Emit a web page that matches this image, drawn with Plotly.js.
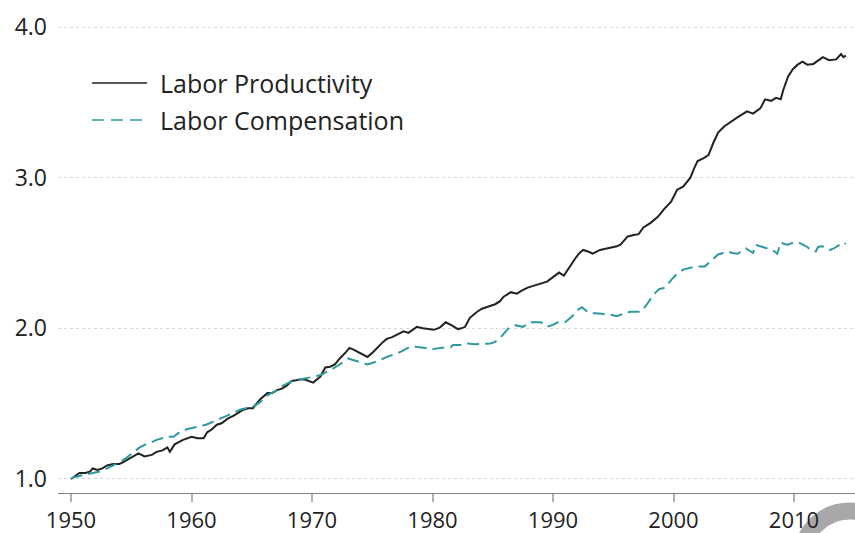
<!DOCTYPE html>
<html>
<head>
<meta charset="utf-8">
<script src="https://cdn.plot.ly/plotly-3.0.1.min.js"></script>
<style>html,body{margin:0;padding:0;background:#fff;}#chart{width:855px;height:533px;}</style>
</head>
<body>
<div id="chart"></div>
<script>
// Labor Productivity (index, 1950 = 1.0)
const prodYears = [1950.0,1950.2,1950.7,1951.2,1951.6,1951.8,1952.2,1952.6,1953.0,1953.5,1954.0,1954.3,1954.9,1955.6,1956.1,1956.7,1957.1,1957.6,1958.0,1958.2,1958.6,1959.3,1960.0,1960.5,1961.0,1961.3,1961.7,1962.1,1962.5,1963.0,1963.5,1963.9,1964.3,1964.7,1965.1,1965.4,1965.7,1966.3,1966.7,1967.1,1967.5,1967.9,1968.3,1968.7,1969.0,1969.4,1969.8,1970.1,1970.4,1970.7,1971.1,1971.5,1971.9,1972.3,1972.8,1973.1,1973.4,1973.8,1974.2,1974.6,1975.1,1975.5,1975.9,1976.2,1976.6,1977.1,1977.6,1978.0,1978.4,1978.7,1979.2,1979.6,1980.1,1980.6,1981.1,1981.6,1982.1,1982.4,1982.7,1983.1,1983.7,1984.1,1984.5,1985.2,1985.6,1985.9,1986.5,1987.0,1987.4,1987.9,1988.3,1988.7,1989.1,1989.5,1990.0,1990.5,1990.9,1991.3,1991.6,1991.9,1992.2,1992.5,1992.9,1993.3,1993.9,1994.5,1994.9,1995.3,1995.6,1995.9,1996.2,1996.7,1997.1,1997.5,1998.1,1998.7,1999.2,1999.8,2000.0,2000.3,2000.8,2001.4,2001.7,2002.0,2002.5,2002.9,2003.3,2003.7,2004.2,2004.7,2005.3,2005.7,2006.1,2006.6,2007.2,2007.6,2008.1,2008.5,2008.9,2009.1,2009.5,2009.9,2010.3,2010.7,2011.1,2011.6,2012.0,2012.4,2012.9,2013.5,2013.9,2014.1,2014.3];
const prodValues = [1.00,1.01,1.04,1.04,1.05,1.07,1.06,1.07,1.09,1.10,1.10,1.11,1.14,1.17,1.15,1.16,1.18,1.19,1.21,1.18,1.23,1.26,1.28,1.27,1.27,1.31,1.33,1.36,1.37,1.40,1.42,1.44,1.46,1.47,1.47,1.50,1.53,1.57,1.57,1.59,1.60,1.62,1.65,1.655,1.66,1.66,1.65,1.64,1.66,1.68,1.74,1.745,1.76,1.80,1.84,1.87,1.86,1.845,1.83,1.81,1.845,1.88,1.91,1.93,1.94,1.96,1.98,1.97,1.99,2.01,2.00,1.995,1.99,2.005,2.04,2.02,1.995,2.00,2.01,2.07,2.11,2.13,2.14,2.16,2.18,2.21,2.24,2.23,2.25,2.27,2.28,2.29,2.30,2.31,2.34,2.37,2.35,2.40,2.44,2.47,2.50,2.52,2.51,2.495,2.52,2.53,2.54,2.545,2.555,2.58,2.61,2.62,2.625,2.67,2.70,2.74,2.79,2.84,2.87,2.92,2.94,3.00,3.06,3.11,3.13,3.15,3.23,3.30,3.34,3.37,3.40,3.42,3.44,3.425,3.46,3.52,3.51,3.53,3.52,3.58,3.67,3.72,3.75,3.77,3.75,3.755,3.78,3.80,3.78,3.785,3.82,3.80,3.81];

// Labor Compensation (index, 1950 = 1.0)
const compYears = [1950.0,1950.2,1950.7,1951.3,1951.8,1952.4,1953.0,1953.5,1954.0,1954.6,1955.2,1955.7,1956.2,1956.6,1957.1,1957.6,1958.0,1958.5,1959.0,1959.6,1960.2,1960.7,1961.2,1961.8,1962.4,1963.0,1963.5,1964.0,1964.5,1965.1,1965.7,1966.0,1966.5,1967.1,1967.6,1968.2,1968.6,1969.0,1969.4,1969.8,1970.2,1970.7,1971.1,1971.5,1971.9,1972.3,1972.7,1973.0,1973.4,1973.8,1974.2,1974.6,1975.0,1975.4,1975.8,1976.2,1976.6,1977.1,1977.5,1977.9,1978.2,1978.6,1979.0,1979.4,1979.8,1980.2,1980.6,1981.0,1981.5,1981.7,1982.3,1982.9,1983.5,1984.0,1984.4,1984.8,1985.2,1985.6,1986.0,1986.3,1986.9,1987.5,1988.1,1988.5,1989.0,1989.5,1989.9,1990.4,1991.0,1991.3,1991.6,1992.0,1992.4,1992.7,1993.1,1993.5,1993.9,1994.4,1994.8,1995.3,1995.6,1996.0,1996.4,1996.7,1997.3,1997.8,1998.3,1998.8,1999.3,1999.9,2000.4,2000.8,2001.3,2001.8,2002.2,2002.6,2003.2,2003.7,2004.1,2004.5,2004.9,2005.3,2005.6,2006.0,2006.4,2006.6,2006.8,2007.1,2007.4,2007.8,2008.1,2008.4,2008.6,2008.9,2009.2,2009.5,2009.8,2010.1,2010.5,2010.8,2011.1,2011.4,2011.8,2012.0,2012.3,2012.6,2013.0,2013.3,2013.5,2013.8,2014.1,2014.3];
const compValues = [1.00,1.01,1.02,1.03,1.04,1.05,1.07,1.09,1.11,1.14,1.18,1.21,1.23,1.24,1.26,1.27,1.28,1.28,1.31,1.33,1.34,1.35,1.36,1.38,1.40,1.42,1.44,1.46,1.47,1.48,1.51,1.54,1.565,1.59,1.62,1.645,1.655,1.66,1.665,1.67,1.68,1.69,1.705,1.72,1.74,1.76,1.78,1.80,1.79,1.78,1.77,1.76,1.77,1.78,1.795,1.81,1.82,1.835,1.85,1.87,1.88,1.878,1.875,1.87,1.86,1.865,1.87,1.873,1.875,1.89,1.89,1.90,1.895,1.895,1.898,1.90,1.91,1.935,1.97,2.00,2.02,2.01,2.04,2.04,2.04,2.01,2.02,2.04,2.04,2.06,2.08,2.12,2.14,2.12,2.10,2.10,2.10,2.095,2.09,2.08,2.09,2.10,2.11,2.11,2.11,2.16,2.22,2.26,2.27,2.33,2.37,2.39,2.40,2.41,2.41,2.41,2.455,2.49,2.50,2.51,2.50,2.495,2.51,2.53,2.51,2.50,2.555,2.55,2.54,2.53,2.52,2.51,2.495,2.57,2.56,2.555,2.565,2.57,2.565,2.555,2.54,2.52,2.51,2.54,2.545,2.54,2.52,2.53,2.54,2.55,2.57,2.56];

const seriesNames = ['Labor Productivity', 'Labor Compensation'];
const xTickVals = [1950, 1960, 1970, 1980, 1990, 2000, 2010];
const xTickText = ['1950', '1960', '1970', '1980', '1990', '2000', '2010'];
const yTickVals = [1, 2, 3, 4];
const yTickText = ['1.0', '2.0', '3.0', '4.0'];

const prodColor = '#222222';
const compColor = '#2e9aa0';
const font = '"Open Sans", "Noto Sans", sans-serif';

const traces = [
  {x: prodYears, y: prodValues, name: seriesNames[0], type: 'scatter', mode: 'lines',
   line: {color: prodColor, width: 2}, showlegend: false, hoverinfo: 'skip'},
  {x: compYears, y: compValues, name: seriesNames[1], type: 'scatter', mode: 'lines',
   line: {color: compColor, width: 2, dash: '12px,6px'}, showlegend: false, hoverinfo: 'skip'}
];

const layout = {
  width: 855, height: 533,
  margin: {l: 58, r: 0, t: 20, b: 40},
  paper_bgcolor: '#ffffff', plot_bgcolor: 'rgba(0,0,0,0)',
  font: {family: font, color: '#222222'},
  xaxis: {
    range: [1948.92, 2015.06], tickvals: xTickVals, ticktext: xTickText,
    showgrid: false, zeroline: false, showline: true, linecolor: '#808080', linewidth: 1,
    ticks: 'outside', ticklen: 8, tickwidth: 2, tickcolor: '#b0b0b0',
    tickfont: {family: font, size: 22, color: '#222222'}
  },
  yaxis: {
    range: [0.907, 4.0465], tickvals: yTickVals, ticktext: yTickText,
    showgrid: true, gridcolor: '#d6d6d6', gridwidth: 1, griddash: 'dot',
    zeroline: false, showline: false, ticks: '', ticklabelstandoff: 10,
    tickfont: {family: font, size: 23, color: '#222222'}
  },
  shapes: [
    {type: 'line', xref: 'paper', yref: 'paper', x0: 0.0427, x1: 0.1117, y0: 0.8668, y1: 0.8668,
     line: {color: prodColor, width: 1.5}},
    {type: 'line', xref: 'paper', yref: 'paper', x0: 0.0427, x1: 0.1117, y0: 0.7886, y1: 0.7886,
     line: {color: compColor, width: 1.5, dash: '12px,7px'}},
    {type: 'circle', xref: 'paper', yref: 'paper', x0: 0.9322, x1: 1.0552, y0: -0.2452, y1: -0.0381,
     line: {color: '#a8a8a8', width: 17}, fillcolor: 'rgba(0,0,0,0)', layer: 'below'}
  ],
  annotations: [
    {xref: 'paper', yref: 'paper', x: 0.1255, y: 0.8668, xanchor: 'left', yanchor: 'middle',
     text: seriesNames[0], showarrow: false, font: {family: font, size: 25, color: '#222222'}},
    {xref: 'paper', yref: 'paper', x: 0.1255, y: 0.7886, xanchor: 'left', yanchor: 'middle',
     text: seriesNames[1], showarrow: false, font: {family: font, size: 25, color: '#222222'}}
  ]
};

Plotly.newPlot('chart', traces, layout, {displayModeBar: false, staticPlot: true});
</script>
</body>
</html>
